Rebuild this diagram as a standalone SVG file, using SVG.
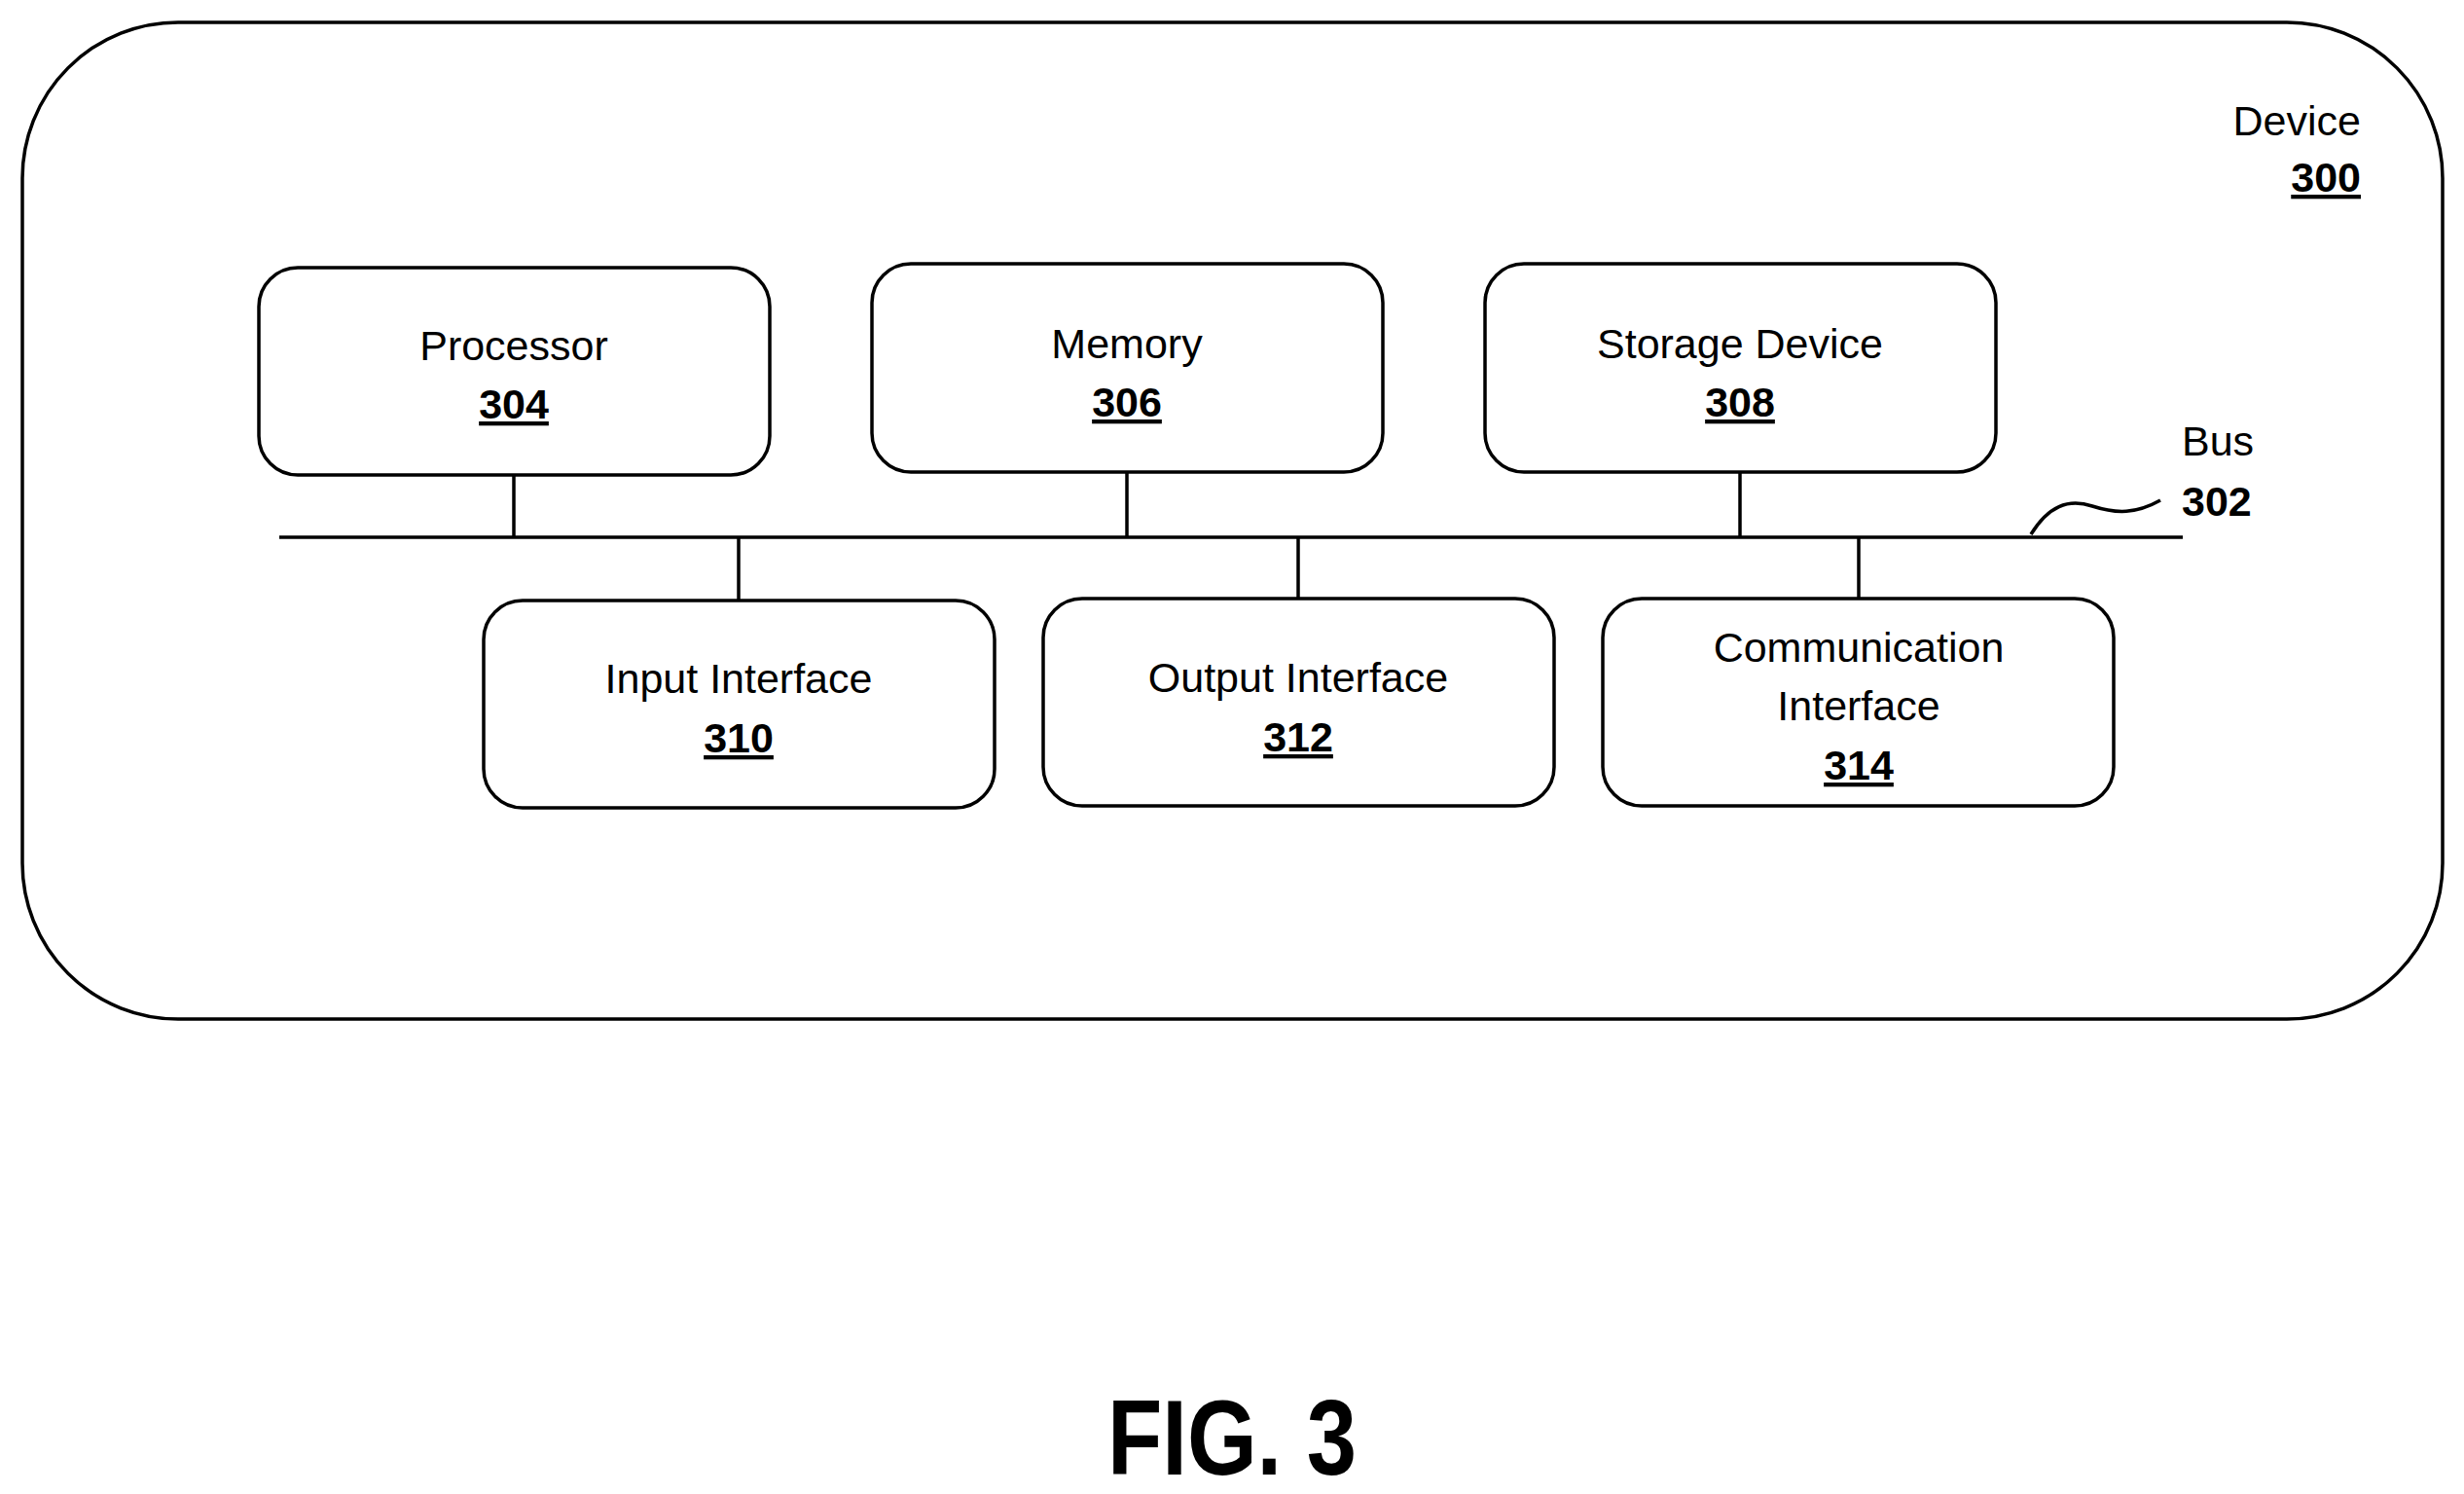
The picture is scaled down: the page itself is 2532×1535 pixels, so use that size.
<svg xmlns="http://www.w3.org/2000/svg" width="2532" height="1535" viewBox="0 0 2532 1535">
<style>
.b{fill:#fff;stroke:#000;stroke-width:3.5}
.t{font-family:"Liberation Sans Narrow","Liberation Sans",Arial,sans-serif;font-size:43px;text-anchor:middle;fill:#000}
.n{font-weight:bold;text-decoration:underline}
.c{stroke:#000;stroke-width:3.5;fill:none}
</style>
<rect width="2532" height="1535" fill="#fff"/>
<g id="device"><rect x="23" y="23" width="2487" height="1024" rx="160" class="b" stroke-width="5"/>
<text class="t" x="2426" y="139" style="text-anchor:end">Device</text>
<text class="t n" x="2426" y="197" style="text-anchor:end">300</text></g>
<g id="connectors">
<line class="c" x1="287" y1="552" x2="2243" y2="552"/>
<line class="c" x1="528" y1="488" x2="528" y2="552"/>
<line class="c" x1="1158" y1="485" x2="1158" y2="552"/>
<line class="c" x1="1788" y1="485" x2="1788" y2="552"/>
<line class="c" x1="759" y1="552" x2="759" y2="617"/>
<line class="c" x1="1334" y1="552" x2="1334" y2="615"/>
<line class="c" x1="1910" y1="552" x2="1910" y2="615"/>
<path class="c" d="M2087 549 C2105 520,2125 512,2150 520 C2175 528,2195 528,2220 514"/>
</g>
<g id="bus"><text class="t" x="2242" y="468" style="text-anchor:start">Bus</text>
<text class="t" x="2242" y="530" style="text-anchor:start;font-weight:bold">302</text></g>
<g id="processor"><rect class="b" x="266" y="275" width="525" height="213" rx="40"/>
<text class="t" x="528" y="370">Processor</text><text class="t n" x="528" y="430">304</text></g>
<g id="memory"><rect class="b" x="896" y="271" width="525" height="214" rx="40"/>
<text class="t" x="1158" y="368">Memory</text><text class="t n" x="1158" y="428">306</text></g>
<g id="storage"><rect class="b" x="1526" y="271" width="525" height="214" rx="40"/>
<text class="t" x="1788" y="368">Storage Device</text><text class="t n" x="1788" y="428">308</text></g>
<g id="input"><rect class="b" x="497" y="617" width="525" height="213" rx="40"/>
<text class="t" x="759" y="712">Input Interface</text><text class="t n" x="759" y="773">310</text></g>
<g id="output"><rect class="b" x="1072" y="615" width="525" height="213" rx="40"/>
<text class="t" x="1334" y="711">Output Interface</text><text class="t n" x="1334" y="772">312</text></g>
<g id="comm"><rect class="b" x="1647" y="615" width="525" height="213" rx="40"/>
<text class="t" x="1910" y="680">Communication</text><text class="t" x="1910" y="740">Interface</text><text class="t n" x="1910" y="801">314</text></g>
<text class="t" x="1266" y="1515" style="font-size:110px;font-weight:bold" textLength="256" lengthAdjust="spacingAndGlyphs">FIG. 3</text>
</svg>
